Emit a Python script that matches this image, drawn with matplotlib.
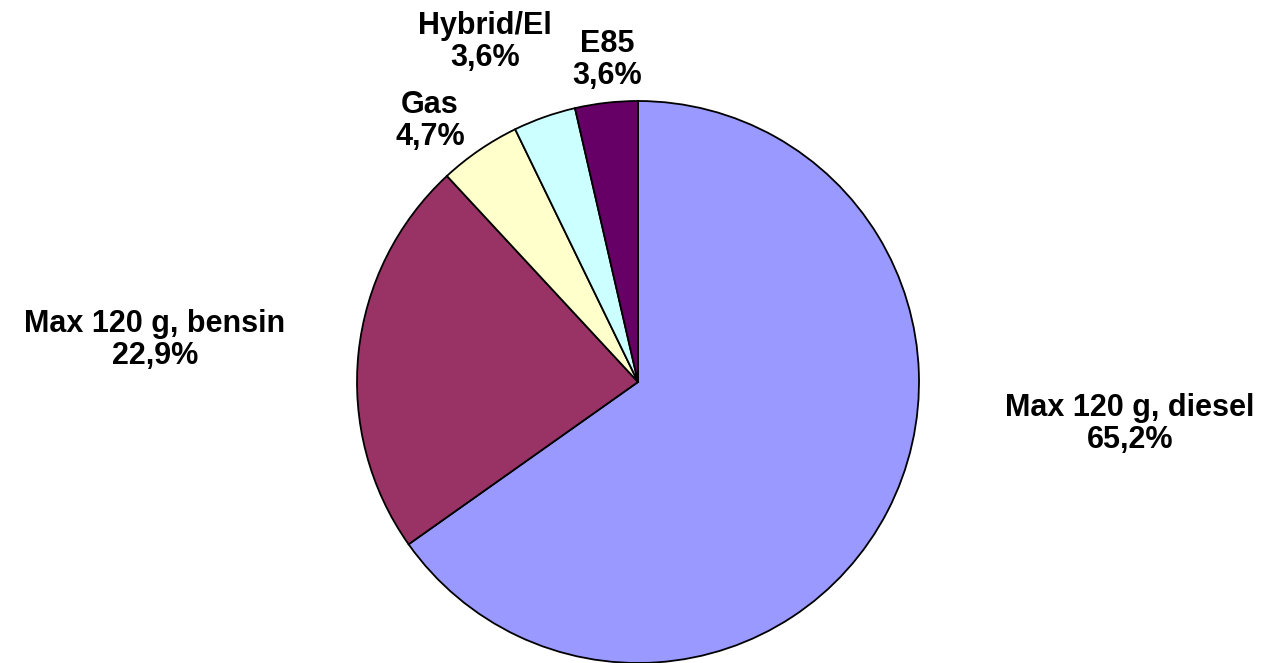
import matplotlib.pyplot as plt

labels = ["Max 120 g, diesel", "Max 120 g, bensin", "Gas", "Hybrid/El", "E85"]
shares = [65.2, 22.9, 4.7, 3.6, 3.6]
colors = ["#9999FF", "#993366", "#FFFFCC", "#CCFFFF", "#660066"]

# label centres, in pie radius units
label_pos = [(1.75, -0.15), (-1.72, 0.15), (-0.74, 0.93), (-0.545, 1.21), (-0.11, 1.146)]

W, H = 1268, 663
R = 281
cx, cy = 638, 382

fig = plt.figure(figsize=(W / 100, H / 100), dpi=100)
ax = fig.add_axes([0, 0, 1, 1])
ax.pie(shares, colors=colors, startangle=90, counterclock=False, radius=1,
       wedgeprops=dict(edgecolor='black', linewidth=1.3, clip_on=False))
ax.set_xlim(-cx / R, (W - cx) / R)
ax.set_ylim(-(H - cy) / R, cy / R)
ax.set_aspect('auto')
ax.axis('off')

for name, val, (x, y) in zip(labels, shares, label_pos):
    txt = f"{name}\n{val:.1f}%".replace('.', ',')
    ax.text(x, y, txt, ha='center', va='center', fontsize=22, fontweight='bold',
            family='Liberation Sans', linespacing=1.1)

fig.savefig('out.png', dpi=100)
